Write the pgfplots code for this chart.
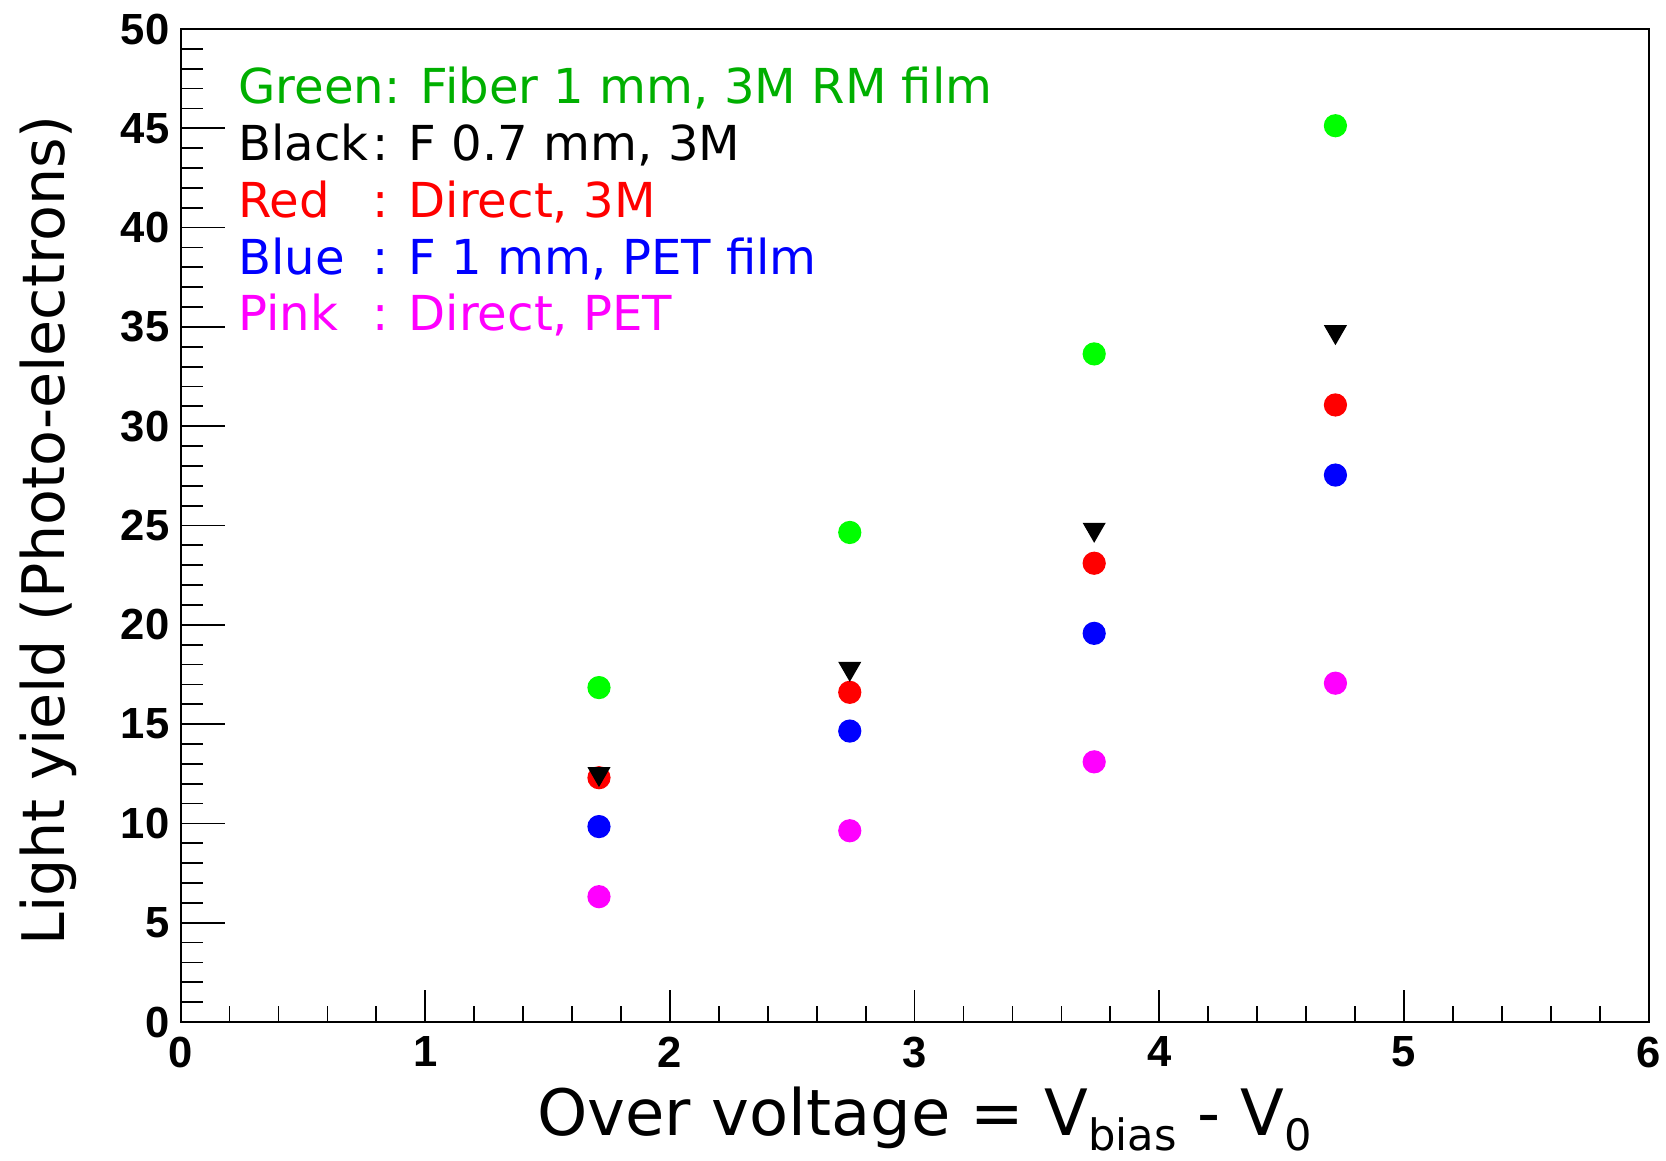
\documentclass[border=0pt]{standalone}
\usepackage{pgfplots}
\pgfplotsset{compat=1.18}
\usepackage{fontspec}
\setmainfont{DejaVu Sans}
\newfontfamily\tickfont{Liberation Sans}

\definecolor{rootgreen}{rgb}{0,1,0}
\definecolor{txtgreen}{RGB}{0,175,0}
\definecolor{rootpink}{rgb}{1,0,1}

\pgfplotsset{
  rootframe/.style={
    width=14.68cm, height=9.93cm, scale only axis,
    xmin=0, xmax=6, ymin=0, ymax=50,
    axis line style={line width=0.6pt, black},
    tick style={line width=0.5pt, black},
    tick align=inside,
    /pgf/number format/assume math mode=true,
    ticklabel style={font=\tickfont\bfseries\fontsize{12.4}{14}\selectfont, inner sep=0pt},
  },
}

\begin{document}
\begin{tikzpicture}
% y ticks (longer, as in ROOT)
\begin{axis}[
    rootframe,
    xtick=\empty,
    ytick={0,5,...,50},
    minor y tick num=4,
    ytick pos=left,
    major tick length=0.44cm,
    minor tick length=0.22cm,
    yticklabel style={xshift=-3pt},
  ]
\end{axis}

% x ticks, labels and data
\begin{axis}[
    rootframe,
    name=ax,
    ytick=\empty,
    xtick={0,...,6},
    minor x tick num=4,
    xtick pos=bottom,
    major tick length=0.32cm,
    minor tick length=0.16cm,
    xticklabel style={yshift=-4pt},
    xlabel={Over voltage = V\raisebox{-4.5pt}{\fontsize{12.3}{13}\selectfont bias} - V\raisebox{-4.5pt}{\fontsize{12.3}{13}\selectfont 0}},
    xlabel style={font=\fontsize{18.2}{21}\selectfont, at={(axis description cs:0.5,0)}, anchor=base, yshift=-1.13cm, xshift=0.1cm},
    ylabel={Light yield (Photo-electrons)},
    % label is rotated by 90 degrees: yshift moves it to the left
    ylabel style={font=\fontsize{16.7}{20}\selectfont, at={(axis description cs:0,0.5)}, anchor=base, yshift=1.156cm, xshift=-0.05cm},
    clip=false,
  ]
  % Green: fiber 1 mm, 3M RM film
  \addplot[only marks, mark=*, mark size=3.1pt, color=rootgreen] coordinates {
    (1.71,16.84) (2.735,24.65) (3.734,33.64) (4.72,45.13)
  };
  % Red: direct, 3M
  \addplot[only marks, mark=*, mark size=3.1pt, color=red] coordinates {
    (1.71,12.3) (2.735,16.6) (3.734,23.1) (4.72,31.07)
  };
  % Black: F 0.7 mm, 3M
  \addplot[only marks, mark=triangle*, mark size=3.4pt, color=black, mark options={rotate=180}] coordinates {
    (1.71,12.5) (2.735,17.8) (3.734,24.8) (4.72,34.75)
  };
  % Blue: F 1 mm, PET film
  \addplot[only marks, mark=*, mark size=3.1pt, color=blue] coordinates {
    (1.71,9.84) (2.735,14.65) (3.734,19.57) (4.72,27.54)
  };
  % Pink: direct, PET
  \addplot[only marks, mark=*, mark size=3.1pt, color=rootpink] coordinates {
    (1.71,6.31) (2.735,9.63) (3.734,13.1) (4.72,17.06)
  };

  \begin{scope}[every node/.style={anchor=base west, inner sep=0pt, font=\fontsize{13.7}{16}\selectfont}]
    \node[text=txtgreen] at (rel axis cs:0.039,0.925) {Green: Fiber 1 mm, 3M RM film};
    \node[text=black] at (rel axis cs:0.039,0.868) {\makebox[38pt][l]{Black}: F 0.7 mm, 3M};
    \node[text=red] at (rel axis cs:0.039,0.810) {\makebox[38pt][l]{Red}: Direct, 3M};
    \node[text=blue] at (rel axis cs:0.039,0.753) {\makebox[38pt][l]{Blue}: F 1 mm, PET film};
    \node[text=rootpink] at (rel axis cs:0.039,0.696) {\makebox[38pt][l]{Pink}: Direct, PET};
  \end{scope}
\end{axis}

\pgfresetboundingbox
\path[use as bounding box] (ax.south west) ++(-1.806cm,-1.38cm) rectangle ++(16.66cm,11.6cm);
\end{tikzpicture}
\end{document}
